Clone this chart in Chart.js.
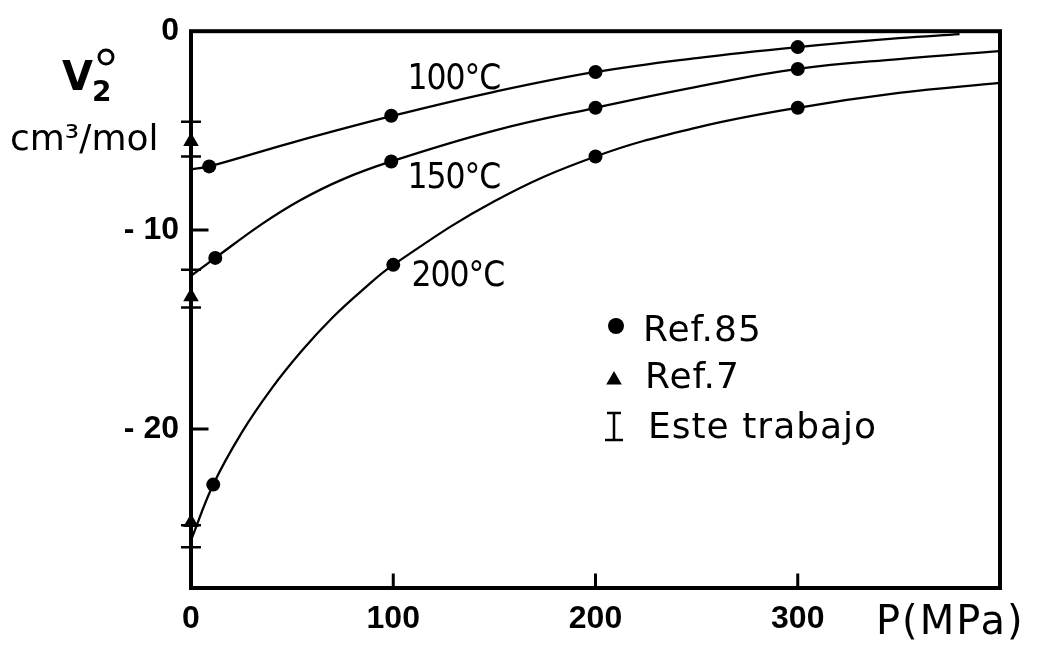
<!DOCTYPE html>
<html>
<head>
<meta charset="utf-8">
<script src="https://cdn.jsdelivr.net/npm/chart.js@4/dist/chart.umd.min.js"></script>
<style>
  html, body { margin: 0; padding: 0; background: #fff; }
</style>
</head>
<body>
<canvas id="volume-chart" width="1040" height="653"></canvas>
<script>
// Pressure in MPa, partial molar volume V2° in cm3/mol

// Ref. 85 points, one set per temperature
const p85_100 = [9, 99, 200, 300];
const v85_100 = [-6.8, -4.25, -2.05, -0.8];
const p85_150 = [12, 99, 200, 300];
const v85_150 = [-11.4, -6.55, -3.85, -1.9];
const p85_200 = [11, 100, 200, 300];
const v85_200 = [-22.8, -11.75, -6.3, -3.85];

// Ref. 7 values at P = 0
const pRef7 = [0, 0, 0];
const vRef7 = [-5.55, -13.35, -24.7];

// This work: ranges at P = 0
const pOwn = [0, 0, 0];
const vOwnHigh = [-4.55, -12.0, -24.85];
const vOwnLow = [-6.3, -13.9, -25.95];

// Smoothed curves
const pCurve100 = [0, 9, 50, 100, 150, 200, 250, 300, 350, 380];
const vCurve100 = [-6.95, -6.8, -5.6, -4.25, -3.05, -2.05, -1.35, -0.8, -0.35, -0.15];
const pCurve150 = [0, 12, 35, 54, 75, 99, 150, 200, 250, 300, 350, 400];
const vCurve150 = [-12.3, -11.4, -9.7, -8.5, -7.45, -6.55, -5.0, -3.85, -2.8, -1.9, -1.4, -1.0];
const pCurve200 = [0, 11, 25, 40, 55, 70, 85, 100, 150, 200, 250, 300, 350, 400];
const vCurve200 = [-25.6, -22.8, -20.2, -17.95, -16.05, -14.4, -13.0, -11.75, -8.55, -6.3, -4.85, -3.85, -3.1, -2.6];

const temperatures = ['100°C', '150°C', '200°C'];
const xTicks = [0, 100, 200, 300];
const yTicks = [0, -10, -20];

const toPoints = (xs, ys) => xs.map((x, i) => ({ x: x, y: ys[i] }));

const ink = '#000';

function curveSet(xs, ys) {
    return {
        data: toPoints(xs, ys),
        showLine: true,
        borderColor: ink,
        borderWidth: 2.3,
        pointRadius: 0,
        tension: 0.4,
        clip: false
    };
}

function dotSet(xs, ys) {
    return {
        data: toPoints(xs, ys),
        showLine: false,
        pointStyle: 'circle',
        pointRadius: 7,
        backgroundColor: ink,
        borderColor: ink,
        borderWidth: 0,
        clip: false
    };
}

// Frame, inner ticks, error bars, curve names, legend and axis titles
const decorations = {
    id: 'decorations',
    afterDatasetsDraw(chart) {
        const ctx = chart.ctx;
        const area = chart.chartArea;
        const x = chart.scales.x;
        const y = chart.scales.y;

        ctx.save();
        ctx.strokeStyle = ink;
        ctx.fillStyle = ink;
        ctx.lineCap = 'square';

        // frame
        ctx.lineWidth = 4;
        ctx.strokeRect(area.left, area.top, area.right - area.left, area.bottom - area.top);

        // ticks pointing inwards
        ctx.lineWidth = 3;
        ctx.beginPath();
        yTicks.filter(v => v !== 0).forEach(v => {
            const py = y.getPixelForValue(v);
            ctx.moveTo(area.left, py);
            ctx.lineTo(area.left + 16, py);
        });
        xTicks.filter(v => v !== 0).forEach(v => {
            const px = x.getPixelForValue(v);
            ctx.moveTo(px, area.bottom);
            ctx.lineTo(px, area.bottom - 13);
        });
        ctx.stroke();

        // this work: I-shaped bars
        ctx.lineWidth = 2.5;
        ctx.lineCap = 'butt';
        pOwn.forEach((p, i) => {
            const px = x.getPixelForValue(p);
            const top = y.getPixelForValue(vOwnHigh[i]);
            const bottom = y.getPixelForValue(vOwnLow[i]);
            ctx.beginPath();
            ctx.moveTo(px, top);
            ctx.lineTo(px, bottom);
            ctx.moveTo(px - 10, top);
            ctx.lineTo(px + 10, top);
            ctx.moveTo(px - 10, bottom);
            ctx.lineTo(px + 10, bottom);
            ctx.stroke();
        });

        // curve names
        const names = [[107, -2.9], [107, -7.9], [109, -12.8]];
        ctx.font = '35px "DejaVu Sans Condensed", sans-serif';
        ctx.letterSpacing = '-1px';
        ctx.textBaseline = 'alphabetic';
        ctx.textAlign = 'left';
        temperatures.forEach((t, i) => {
            ctx.fillText(t, x.getPixelForValue(names[i][0]), y.getPixelForValue(names[i][1]));
        });
        ctx.letterSpacing = '0px';

        // legend
        Chart.helpers.drawPoint(ctx, { pointStyle: 'circle', radius: 8, borderWidth: 0 }, 616, 326);
        Chart.helpers.drawPoint(ctx, { pointStyle: 'triangle', radius: 9, borderWidth: 0 }, 614, 380);
        ctx.beginPath();
        ctx.moveTo(614, 413); ctx.lineTo(614, 440);
        ctx.moveTo(607, 413); ctx.lineTo(621, 413);
        ctx.moveTo(605, 440); ctx.lineTo(623, 440);
        ctx.stroke();
        ctx.font = '36px "DejaVu Sans", sans-serif';
        ctx.letterSpacing = '1px';
        ctx.fillText('Ref.85', 643, 341);
        ctx.fillText('Ref.7', 645, 388);
        ctx.fillText('Este trabajo', 648, 438);
        ctx.letterSpacing = '0px';

        // y title
        ctx.font = 'bold 40px "DejaVu Sans", sans-serif';
        ctx.fillText('V', 62, 90);
        ctx.font = 'bold 28px "DejaVu Sans", sans-serif';
        ctx.fillText('2', 92, 101);
        ctx.lineWidth = 3;
        ctx.beginPath();
        ctx.arc(106, 57, 7, 0, Math.PI * 2);
        ctx.stroke();
        ctx.font = '36px "DejaVu Sans", sans-serif';
        ctx.fillText('cm³/mol', 10, 150);

        // x title
        ctx.font = '40px "DejaVu Sans", sans-serif';
        ctx.letterSpacing = '2px';
        ctx.fillText('P(MPa)', 876, 634);

        ctx.restore();
    }
};

const tickFont = { family: '"Liberation Sans", Arial, sans-serif', size: 32, weight: 'bold' };

const volumeChart = new Chart(document.getElementById('volume-chart').getContext('2d'), {
    type: 'scatter',
    data: {
        datasets: [
            curveSet(pCurve100, vCurve100),
            curveSet(pCurve150, vCurve150),
            curveSet(pCurve200, vCurve200),
            dotSet(p85_100, v85_100),
            dotSet(p85_150, v85_150),
            dotSet(p85_200, v85_200),
            {
                data: toPoints(pRef7, vRef7),
                showLine: false,
                pointStyle: 'triangle',
                pointRadius: 9,
                backgroundColor: ink,
                borderColor: ink,
                borderWidth: 0,
                clip: false
            }
        ]
    },
    options: {
        responsive: false,
        animation: false,
        layout: { padding: { top: 25, right: 40, left: 0, bottom: 0 } },
        scales: {
            x: {
                type: 'linear',
                min: 0,
                max: 400,
                afterBuildTicks: scale => { scale.ticks = xTicks.map(v => ({ value: v })); },
                afterFit: scale => { scale.height = 65; },
                grid: { display: false, drawTicks: false },
                border: { display: false },
                ticks: { color: ink, font: tickFont, padding: 12, maxRotation: 0 }
            },
            y: {
                type: 'linear',
                min: -28,
                max: 0,
                afterBuildTicks: scale => { scale.ticks = yTicks.map(v => ({ value: v })); },
                afterFit: scale => { scale.width = 191; },
                grid: { display: false, drawTicks: false },
                border: { display: false },
                ticks: {
                    color: ink,
                    font: tickFont,
                    padding: 12,
                    callback: v => (v === 0 ? '0' : '- ' + Math.abs(v))
                }
            }
        },
        plugins: {
            legend: { display: false },
            tooltip: { enabled: false }
        }
    },
    plugins: [decorations]
});
</script>
</body>
</html>
